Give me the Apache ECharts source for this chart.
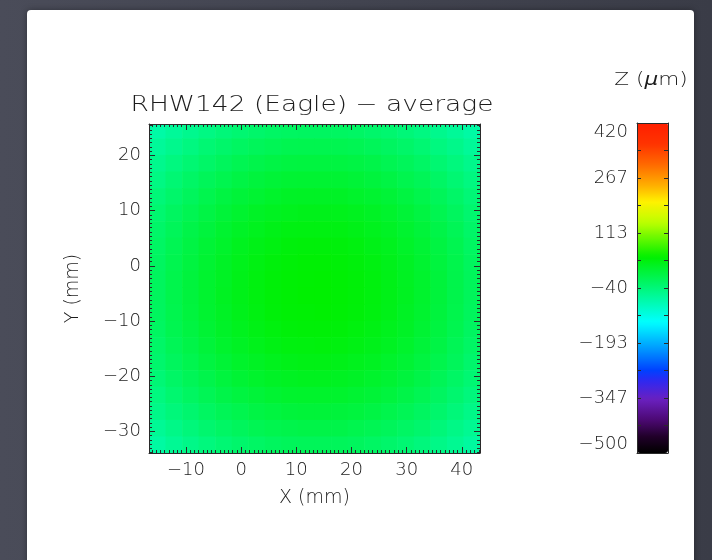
<!DOCTYPE html>
<html>
<head>
<meta charset="utf-8">
<script src="https://cdn.jsdelivr.net/npm/echarts@6/dist/echarts.min.js"></script>
<style>
  html, body { margin: 0; padding: 0; background: #3f414d; }
  #chart { width: 712px; height: 560px; }
</style>
</head>
<body>
<div id="chart"></div>
<script>
// Surface height map of the averaged RHW142 (Eagle) measurement, 3 mm cells.
const xCenters = [-15.2, -12.2, -9.2, -6.2, -3.2, -0.2, 2.8, 5.8, 8.8, 11.8,
                  14.8, 17.8, 20.8, 23.8, 26.8, 29.8, 32.8, 35.8, 38.8, 41.8];
// rows listed from top (largest Y) to bottom
const yCenters = [24.6, 21.6, 18.6, 15.6, 12.6, 9.6, 6.6, 3.6, 0.6, -2.4,
                  -5.4, -8.4, -11.4, -14.4, -17.4, -20.4, -23.4, -26.4, -29.4, -32.4];
// Z in µm
const zRows = [
  [-72, -63, -55, -47, -40, -34, -29, -25, -23, -22, -22, -23, -25, -29, -33, -39, -46, -54, -62, -71],
  [-63, -54, -45, -36, -29, -23, -18, -14, -11, -10, -10, -11, -13, -17, -22, -28, -35, -44, -52, -62],
  [-54, -44, -35, -27, -19, -12, -7, -3, 0, 1, 1, 0, -2, -6, -12, -18, -25, -34, -43, -53],
  [-47, -36, -26, -17, -10, -3, 3, 7, 10, 11, 11, 10, 7, 3, -2, -9, -16, -25, -35, -45],
  [-39, -29, -19, -9, -1, 6, 11, 16, 19, 20, 20, 19, 16, 12, 7, 0, -8, -17, -27, -38],
  [-33, -22, -12, -3, 6, 13, 19, 23, 26, 28, 28, 27, 24, 20, 14, 7, -1, -11, -21, -32],
  [-28, -17, -6, 3, 12, 19, 25, 30, 33, 34, 34, 33, 30, 26, 20, 13, 5, -5, -15, -27],
  [-24, -13, -2, 8, 16, 24, 30, 34, 38, 39, 39, 38, 35, 30, 25, 17, 9, -1, -11, -23],
  [-22, -10, 1, 11, 19, 27, 33, 38, 41, 43, 43, 41, 38, 34, 28, 21, 12, 2, -8, -20],
  [-20, -8, 3, 13, 21, 29, 35, 40, 43, 44, 45, 43, 40, 36, 30, 22, 14, 4, -7, -18],
  [-20, -8, 3, 13, 22, 29, 35, 40, 43, 45, 45, 43, 40, 36, 30, 23, 14, 4, -7, -18],
  [-21, -9, 2, 12, 20, 28, 34, 39, 42, 43, 44, 42, 39, 35, 29, 21, 13, 3, -8, -19],
  [-23, -11, -1, 9, 18, 25, 31, 36, 39, 41, 41, 39, 36, 32, 26, 19, 10, 1, -10, -22],
  [-27, -15, -5, 5, 14, 21, 27, 32, 35, 36, 37, 35, 32, 28, 22, 15, 6, -3, -14, -25],
  [-31, -20, -10, 0, 8, 16, 21, 26, 29, 31, 31, 29, 26, 22, 16, 9, 1, -8, -18, -30],
  [-37, -26, -16, -7, 2, 9, 15, 19, 22, 24, 24, 22, 19, 15, 10, 3, -5, -15, -25, -35],
  [-44, -33, -23, -14, -6, 1, 6, 11, 14, 15, 15, 14, 11, 7, 2, -5, -13, -22, -32, -42],
  [-51, -41, -32, -23, -15, -9, -3, 1, 4, 6, 6, 4, 2, -2, -8, -14, -22, -30, -40, -50],
  [-60, -50, -41, -32, -25, -19, -13, -9, -7, -5, -5, -6, -9, -13, -18, -24, -31, -40, -49, -58],
  [-69, -59, -51, -43, -36, -30, -25, -21, -18, -17, -17, -18, -20, -24, -29, -35, -42, -50, -58, -67]
];
const xTickValues = [-10, 0, 10, 20, 30, 40];
const yTickValues = [-30, -20, -10, 0, 10, 20];
const xRange = [-16.7, 43.3];
const yRange = [-33.9, 25.7];
const zRange = [-500, 420];
const zLabelCount = 7;

// rainbow + black colour table (value, colour)
const colorStops = [
  [-500, '#000000'], [-455, '#200028'], [-410, '#4a0870'], [-350, '#6a20c0'],
  [-300, '#3028f0'], [-270, '#0040ff'], [-210, '#0098ff'], [-135, '#00ffff'],
  [46, '#00f000'], [140, '#b8ff00'], [200, '#fff200'], [245, '#ffb000'],
  [300, '#ff6e00'], [360, '#ff3400'], [420, '#ff1e00']
];

function hexToRgb(h) {
  return [parseInt(h.slice(1, 3), 16), parseInt(h.slice(3, 5), 16), parseInt(h.slice(5, 7), 16)];
}
function colorAt(v) {
  for (let i = 0; i < colorStops.length - 1; i++) {
    const [v0, c0] = colorStops[i], [v1, c1] = colorStops[i + 1];
    if (v <= v1) {
      const t = Math.max(0, (v - v0) / (v1 - v0));
      const a = hexToRgb(c0), b = hexToRgb(c1);
      return 'rgb(' + a.map((x, k) => Math.round(x + (b[k] - x) * t)).join(',') + ')';
    }
  }
  return colorStops[colorStops.length - 1][1];
}
// evenly spaced palette for the continuous visualMap
const palette = [];
for (let v = zRange[0]; v <= zRange[1] + 1e-9; v += 5) palette.push(colorAt(v));

const cells = [];
yCenters.forEach((y, r) => xCenters.forEach((x, c) => cells.push([x, y, zRows[r][c]])));

const CELL = 3;
const TXT = '#1c1c1c';
const FONT = 'DejaVu Sans';
const minus = v => String(v).replace('-', '\u2212');

function minorValues(range, step, majors) {
  const out = [];
  const k0 = Math.ceil(range[0] / step), k1 = Math.floor(range[1] / step);
  for (let k = k0; k <= k1; k++) {
    const v = +(k * step).toFixed(4);
    if (!majors.some(m => Math.abs(m - v) < 1e-6)) out.push(v);
  }
  return out;
}
const xMinor = minorValues(xRange, 10 / 13, xTickValues);
const yMinor = minorValues(yRange, 10 / 13, yTickValues);

const zStep = (zRange[1] - zRange[0]) / (zLabelCount - 1);
const zLabelValues = [], zTickValues = [];
for (let i = 0; i < zLabelCount; i++) zLabelValues.push(zRange[0] + i * zStep);
for (let i = 0; i < (zLabelCount - 1) * 2 + 1; i++) zTickValues.push(zRange[0] + i * zStep / 2);

const lineStyle = { color: '#2a2a2a', width: 1 };
const labelStyle = { color: TXT, fontFamily: FONT, fontSize: 18, fontWeight: 200 };
const hiddenLine = { show: false, onZero: false };

function frameAxis(pos, grid, range, values, len, withLabels, extra) {
  return Object.assign({
    type: 'value', gridIndex: grid, position: pos, min: range[0], max: range[1], z: 5,
    axisLine: { show: true, onZero: false, lineStyle },
    axisTick: { show: true, inside: true, length: len, lineStyle, customValues: values },
    axisLabel: withLabels
      ? Object.assign({ show: true, customValues: values, formatter: minus }, labelStyle)
      : { show: false },
    splitLine: { show: false }
  }, extra || {});
}

const nameStyle = { color: TXT, fontFamily: FONT, fontSize: 19, fontWeight: 200 };

const option = {
  backgroundColor: new echarts.graphic.LinearGradient(0, 0, 1, 0, [
    { offset: 0, color: '#4a4c59' }, { offset: 1, color: '#3a3c47' }
  ]),
  animation: false,
  graphic: [
    { type: 'rect', z: -10, shape: { x: 27, y: 10, width: 667, height: 560, r: 4 },
      style: { fill: '#ffffff', shadowBlur: 6, shadowColor: 'rgba(0,0,0,0.35)' } },
    { type: 'text', z: 10, x: 312, y: 106, scaleX: 1.26,
      style: { text: 'RHW142 (Eagle) \u2212 average', fill: TXT, font: '200 21px "DejaVu Sans"',
               align: 'center', verticalAlign: 'middle' } },
    { type: 'text', z: 10, x: 651, y: 80, scaleX: 1.2,
      style: { text: 'Z ({mu|\u03bc}m)', fill: TXT, font: '200 18px "DejaVu Sans"',
               align: 'center', verticalAlign: 'middle',
               rich: { mu: { fontStyle: 'italic', fontSize: 18, fontFamily: FONT, fontWeight: 200, fill: TXT } } } }
  ],
  grid: [
    { left: 149, top: 124, width: 331, height: 329 },
    { left: 637, top: 123, width: 31, height: 330 }
  ],
  xAxis: [
    frameAxis('bottom', 0, xRange, xTickValues, 6, true, {
      name: 'X (mm)', nameLocation: 'middle', nameGap: 36, nameTextStyle: nameStyle
    }),
    frameAxis('bottom', 0, xRange, xMinor, 3, false, { axisLine: hiddenLine }),
    frameAxis('top', 0, xRange, xTickValues, 6, false),
    frameAxis('top', 0, xRange, xMinor, 3, false, { axisLine: hiddenLine }),
    frameAxis('bottom', 1, [0, 1], [], 0, false, { axisTick: { show: false } }),
    frameAxis('top', 1, [0, 1], [], 0, false, { axisTick: { show: false } })
  ],
  yAxis: [
    frameAxis('left', 0, yRange, yTickValues, 6, true, {
      name: 'Y (mm)', nameLocation: 'middle', nameGap: 66, nameRotate: 90, nameTextStyle: nameStyle
    }),
    frameAxis('left', 0, yRange, yMinor, 3, false, { axisLine: hiddenLine }),
    frameAxis('right', 0, yRange, yTickValues, 6, false),
    frameAxis('right', 0, yRange, yMinor, 3, false, { axisLine: hiddenLine }),
    frameAxis('left', 1, zRange, zTickValues, 4, false),
    frameAxis('left', 1, zRange, zLabelValues, 4, true, {
      axisLine: hiddenLine,
      axisLabel: Object.assign({
        show: true, customValues: zLabelValues, margin: 9,
        formatter: v => minus(Math.round(v)),
        verticalAlignMinLabel: 'bottom', verticalAlignMaxLabel: 'top'
      }, labelStyle)
    }),
    frameAxis('right', 1, zRange, zTickValues, 4, false)
  ],
  visualMap: {
    type: 'continuous', min: zRange[0], max: zRange[1], dimension: 2, seriesIndex: 0,
    left: 637, top: 123, itemWidth: 31, itemHeight: 330, padding: 0,
    calculable: false, realtime: false, hoverLink: false, text: ['', ''],
    inRange: { color: palette }, z: 2
  },
  series: [{
    type: 'custom',
    coordinateSystem: 'cartesian2d',
    xAxisIndex: 0, yAxisIndex: 0,
    z: 1,
    data: cells,
    renderItem: (params, api) => {
      const x = api.value(0), y = api.value(1);
      const p0 = api.coord([x - CELL / 2, y + CELL / 2]);
      const p1 = api.coord([x + CELL / 2, y - CELL / 2]);
      const rect = echarts.graphic.clipRectByRect(
        { x: p0[0], y: p0[1], width: p1[0] - p0[0] + 0.6, height: p1[1] - p0[1] + 0.6 },
        params.coordSys);
      if (!rect) return null;
      return { type: 'rect', shape: rect, style: { fill: api.visual('color') } };
    }
  }]
};

const chart = echarts.init(document.getElementById('chart'), null, { renderer: 'canvas' });
chart.setOption(option);
</script>
</body>
</html>
